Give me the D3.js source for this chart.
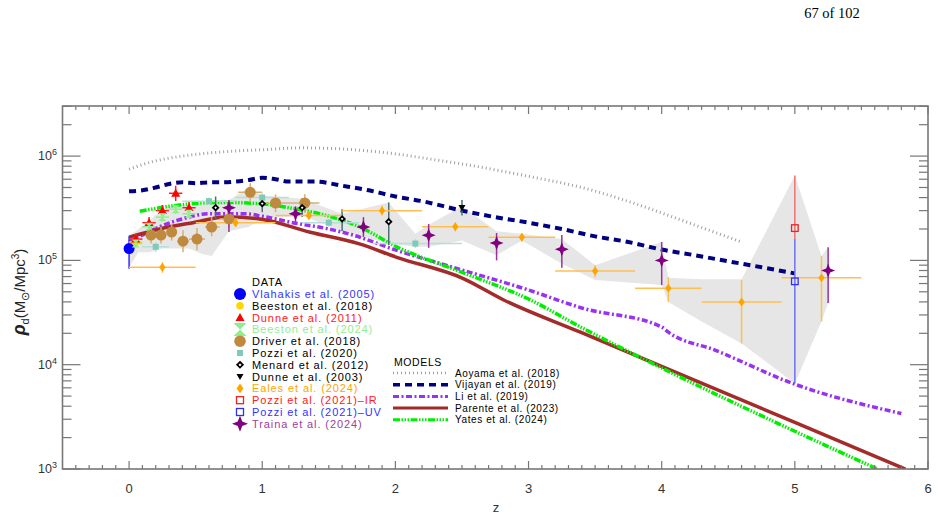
<!DOCTYPE html>
<meta charset="utf-8">
<style>
    body { margin: 0; background: #fff; }
    text { font-family: "Liberation Sans", Arial, sans-serif; }
</style>
<svg width="938" height="519"></svg>

<script src="https://d3js.org/d3.v7.min.js"></script>
<script>
    // model curves
    var aoyamaZ = [0, 0.2, 0.4, 0.6, 0.8, 1.0, 1.3, 1.6, 2.0, 2.3, 2.6, 3.0, 3.4, 3.8, 4.2, 4.6];
    var aoyamaV = [7.5e5, 9.0e5, 1.0e6, 1.07e6, 1.12e6, 1.15e6, 1.2e6, 1.17e6, 1.05e6, 9.2e5, 8.0e5, 6.4e5, 5.0e5, 3.5e5, 2.3e5, 1.5e5];
    var vijayanZ = [0, 0.1, 0.2, 0.3, 0.4, 0.5, 0.6, 0.7, 0.8, 0.9, 1.0, 1.1, 1.2, 1.4, 1.6, 1.8, 2.0, 2.2, 2.5, 2.75, 3.0, 3.25, 3.5, 3.75, 4.0, 4.25, 4.5, 4.75, 5.0];
    var vijayanV = [4.6e5, 4.7e5, 5.0e5, 5.4e5, 5.6e5, 5.5e5, 5.6e5, 5.6e5, 5.7e5, 5.9e5, 6.2e5, 6.0e5, 5.7e5, 5.7e5, 5.2e5, 4.7e5, 4.1e5, 3.7e5, 3.0e5, 2.6e5, 2.3e5, 2.0e5, 1.7e5, 1.5e5, 1.27e5, 1.12e5, 9.8e4, 8.6e4, 7.5e4];
    var liZ = [0, 0.1, 0.23, 0.4, 0.6, 0.88, 1.0, 1.23, 1.5, 1.68, 2.0, 2.5, 3.0, 3.4, 4.0, 4.05, 4.4, 5.0, 5.8];
    var liV = [1.5e5, 1.75e5, 2.1e5, 2.5e5, 2.8e5, 2.8e5, 2.65e5, 2.3e5, 2.0e5, 1.75e5, 1.26e5, 8.1e4, 5.2e4, 3.5e4, 2.3e4, 2.05e4, 1.38e4, 6.5e3, 3.4e3];
    var parenteZ = [0, 0.23, 0.48, 0.73, 0.98, 1.36, 1.73, 2.01, 2.51, 2.81, 3.39, 5.0, 5.83];
    var parenteV = [1.67e5, 2.0e5, 2.3e5, 2.6e5, 2.5e5, 1.86e5, 1.44e5, 1.07e5, 6.7e4, 4.2e4, 2.05e4, 2.8e3, 1.0e3];
    var yatesZ = [0.08, 0.3, 0.48, 0.7, 0.98, 1.2, 1.48, 1.73, 2.01, 2.51, 3.01, 3.39, 4.0, 5.0, 5.62];
    var yatesV = [2.96e5, 3.3e5, 3.5e5, 3.6e5, 3.5e5, 3.2e5, 2.7e5, 2.1e5, 1.35e5, 7.6e4, 4.2e4, 2.3e4, 9.3e3, 2.3e3, 1.0e3];

    // observations: [z, rho, zlo, zhi, rholo, rhohi]
    var vlahakis = [[0.0, 1.3e5, 0, 0, 8.3e4, 1.7e5]];
    var beeston18 = [[0.05, 1.5e5, 0.0, 0.1, 1.38e5, 1.62e5]];
    var dunne11 = [[0.05, 1.6e5, 0, 0.1, 1.42e5, 1.8e5], [0.15, 2.3e5, 0.1, 0.2, 2.0e5, 2.6e5], [0.25, 3.0e5, 0.2, 0.3, 2.65e5, 3.4e5],
                   [0.35, 4.4e5, 0.3, 0.4, 3.7e5, 5.2e5], [0.45, 3.2e5, 0.4, 0.5, 2.8e5, 3.65e5]];
    var beeston24 = [[0.05, 1.45e5, 0, 0.1, 1.32e5, 1.6e5], [0.15, 2.1e5, 0.1, 0.2, 1.9e5, 2.3e5], [0.25, 2.6e5, 0.2, 0.3, 2.35e5, 2.85e5],
                     [0.35, 3.1e5, 0.3, 0.4, 2.8e5, 3.4e5], [0.45, 2.8e5, 0.4, 0.5, 2.55e5, 3.1e5]];
    var driver = [[0.165, 1.75e5, 0.13, 0.2, 1.45e5, 2.1e5], [0.24, 1.75e5, 0.2, 0.28, 1.45e5, 2.1e5], [0.32, 1.87e5, 0.28, 0.36, 1.55e5, 2.25e5],
                  [0.405, 1.53e5, 0.36, 0.45, 1.2e5, 1.95e5], [0.51, 1.6e5, 0.45, 0.57, 1.25e5, 2.05e5], [0.62, 2.09e5, 0.57, 0.68, 1.7e5, 2.6e5],
                  [0.75, 2.5e5, 0.68, 0.82, 2.05e5, 3.05e5], [0.91, 4.5e5, 0.82, 1.0, 3.7e5, 5.5e5], [1.1, 3.55e5, 0.99, 1.21, 2.9e5, 4.3e5],
                  [1.32, 3.55e5, 1.21, 1.43, 2.9e5, 4.3e5]];
    var pozzi20 = [[0.2, 1.35e5, 0.1, 0.3, 1.2e5, 1.5e5], [0.6, 3.7e5, 0.4, 0.8, 3.4e5, 4.0e5], [1.0, 4.0e5, 0.8, 1.2, 3.6e5, 4.4e5],
                   [1.5, 2.3e5, 1.3, 1.73, 2.1e5, 2.5e5], [2.15, 1.45e5, 1.83, 2.5, 1.32e5, 1.6e5]];
    var menard = [[0.65, 3.2e5, 0.65, 0.65, 2.45e5, 4.1e5], [1.0, 3.5e5, 1.0, 1.0, 2.9e5, 4.05e5], [1.3, 3.2e5, 1.3, 1.3, 2.6e5, 3.95e5],
                  [1.6, 2.5e5, 1.6, 1.6, 1.9e5, 3.1e5], [1.95, 2.35e5, 1.95, 1.95, 1.4e5, 3.6e5]];
    var dunne03 = [[2.5, 3.2e5, 2.5, 2.5, 2.7e5, 3.8e5]];
    var eales = [[0.25, 8.6e4, 0.0, 0.5, 7.6e4, 9.6e4], [0.8, 2.3e5, 0.5, 1.1, 2.1e5, 2.5e5], [1.35, 2.7e5, 1.1, 1.6, 2.45e5, 2.95e5],
                 [1.9, 3.0e5, 1.6, 2.2, 2.7e5, 3.35e5], [2.45, 2.1e5, 2.2, 2.7, 1.9e5, 2.3e5], [2.95, 1.67e5, 2.7, 3.2, 1.52e5, 1.82e5],
                 [3.5, 7.9e4, 3.2, 3.8, 6.9e4, 9.0e4], [4.05, 5.4e4, 3.8, 4.3, 4.0e4, 6.9e4], [4.6, 4.0e4, 4.3, 4.9, 1.6e4, 6.5e4],
                 [5.2, 6.8e4, 4.9, 5.5, 2.6e4, 1.1e5]];
    var pozziIR = [[5.0, 2.04e5, 5.0, 5.0, 1.6e5, 6.5e5]];
    var pozziUV = [[5.0, 6.3e4, 5.0, 5.0, 6.6e3, 1.6e5]];
    var traina = [[0.75, 3.2e5, 0.75, 0.75, 1.87e5, 3.8e5], [1.25, 2.8e5, 1.25, 1.25, 2.33e5, 3.3e5], [1.76, 2.09e5, 1.76, 1.76, 1.68e5, 2.6e5],
                  [2.25, 1.74e5, 2.25, 2.25, 1.32e5, 2.23e5], [2.76, 1.47e5, 2.76, 2.76, 1.0e5, 1.83e5], [3.25, 1.28e5, 3.25, 3.25, 8.5e4, 1.75e5],
                  [4.0, 1.0e5, 4.0, 4.0, 5.8e4, 1.5e5], [5.25, 8.0e4, 5.25, 5.25, 3.9e4, 1.34e5]];

    // grey envelope of the observations
    var bandZ  = [0.0, 0.07, 0.15, 0.25, 0.35, 0.45, 0.55, 0.62, 0.75, 0.9, 1.0, 1.3, 1.6, 1.95, 2.15, 2.25, 2.5, 2.76, 2.95, 3.25, 3.5, 4.0, 4.05, 4.3, 4.6, 5.0, 5.2, 5.25];
    var bandLo = [8.5e4, 1.2e5, 1.2e5, 1.3e5, 1.3e5, 1.3e5, 1.15e5, 1.1e5, 1.9e5, 2.1e5, 2.5e5, 2.7e5, 1.9e5, 1.45e5, 1.35e5, 1.35e5, 1.55e5, 1.12e5, 1.55e5, 9.3e4, 6.5e4, 5.8e4, 4.0e4, 2.6e4, 1.6e4, 6.6e3, 2.6e4, 3.9e4];
    var bandHi = [1.7e5, 2.0e5, 2.4e5, 3.1e5, 3.5e5, 3.3e5, 3.4e5, 3.8e5, 3.8e5, 5.0e5, 4.2e5, 3.9e5, 2.8e5, 3.6e5, 1.8e5, 2.2e5, 3.3e5, 1.9e5, 1.8e5, 1.6e5, 9.0e4, 1.5e5, 6.8e4, 6.6e4, 6.6e4, 6.5e5, 1.1e5, 1.34e5];

    var xTicks = [0, 1, 2, 3, 4, 5, 6];
    var yTicks = [1e3, 1e4, 1e5, 1e6];

    var svg = d3.select("svg"),
        pL = 62.5, pR = 928, pT = 106, pB = 469;
    var x = d3.scaleLinear().domain([-0.5, 6]).range([pL, pR]);
    var y = d3.scaleLog().domain([1e3, Math.pow(10, 3 + 363 / 104.3)]).range([pB, pT]);

    svg.append("text").attr("x", 832).attr("y", 18).attr("text-anchor", "middle")
        .style("font-family", "'Liberation Serif', serif").style("font-size", "14.5px").text("67 of 102");

    svg.append("clipPath").attr("id", "clip").append("rect")
        .attr("x", pL).attr("y", pT).attr("width", pR - pL).attr("height", pB - pT);
    var plot = svg.append("g").attr("clip-path", "url(#clip)");

    // envelope
    var band = d3.area()
        .x(function(i) { return x(bandZ[i]); })
        .y0(function(i) { return y(bandLo[i]); })
        .y1(function(i) { return y(bandHi[i]); });
    plot.append("path").attr("d", band(d3.range(bandZ.length))).attr("fill", "#e6e6e6");

    // models
    var models = [
        {name: "Aoyama et al. (2018)", z: aoyamaZ, v: aoyamaV, color: "#a0a0a0", w: 3, dash: "1 3"},
        {name: "Vijayan et al. (2019)", z: vijayanZ, v: vijayanV, color: "#000080", w: 4, dash: "7 5"},
        {name: "Li et al. (2019)", z: liZ, v: liV, color: "#9932f0", w: 3.5, dash: "6 2.5 2 2.5"},
        {name: "Parente et al. (2023)", z: parenteZ, v: parenteV, color: "#a52a2a", w: 3.5, dash: null},
        {name: "Yates et al. (2024)", z: yatesZ, v: yatesV, color: "#00ee00", w: 3.5, dash: "7 1.5 1.5 1.5 1.5 1.5 1.5 1.5"}
    ];
    models.forEach(function(m) {
        var line = d3.line()
            .x(function(i) { return x(m.z[i]); })
            .y(function(i) { return y(m.v[i]); })
            .curve(d3.curveMonotoneX);
        plot.append("path").attr("d", line(d3.range(m.z.length)))
            .attr("fill", "none").attr("stroke", m.color).attr("stroke-width", m.w)
            .attr("stroke-dasharray", m.dash);
    });

    // symbols
    function sym(g, type, cx, cy, color, s) {
        var p;
        if (type == "circle") {
            g.append("circle").attr("cx", cx).attr("cy", cy).attr("r", s).attr("fill", color);
        } else if (type == "tri") {
            p = [[cx, cy - s], [cx + s, cy + s * 0.75], [cx - s, cy + s * 0.75]];
            g.append("path").attr("d", "M" + p.join("L") + "Z").attr("fill", color);
        } else if (type == "tridown") {
            p = [[cx - s, cy - s * 0.75], [cx + s, cy - s * 0.75], [cx, cy + s]];
            g.append("path").attr("d", "M" + p.join("L") + "Z").attr("fill", color);
        } else if (type == "hour") {
            p = [[cx - s, cy - s], [cx + s, cy - s], [cx, cy], [cx + s, cy + s], [cx - s, cy + s], [cx, cy]];
            g.append("path").attr("d", "M" + p.join("L") + "Z").attr("fill", color);
        } else if (type == "square") {
            g.append("rect").attr("x", cx - s).attr("y", cy - s).attr("width", 2 * s).attr("height", 2 * s).attr("fill", color);
        } else if (type == "osquare") {
            g.append("rect").attr("x", cx - s).attr("y", cy - s).attr("width", 2 * s).attr("height", 2 * s)
                .attr("fill", "none").attr("stroke", color).attr("stroke-width", 1.3);
        } else if (type == "diamond") {
            p = [[cx, cy - s * 1.4], [cx + s, cy], [cx, cy + s * 1.4], [cx - s, cy]];
            g.append("path").attr("d", "M" + p.join("L") + "Z").attr("fill", color);
        } else if (type == "odiamond") {
            p = [[cx, cy - s], [cx + s, cy], [cx, cy + s], [cx - s, cy]];
            g.append("path").attr("d", "M" + p.join("L") + "Z").attr("fill", "#fff").attr("stroke", color).attr("stroke-width", 1.8);
        } else if (type == "star") {
            var k = s * 0.28;
            p = [[cx, cy - s], [cx + k, cy - k], [cx + s, cy], [cx + k, cy + k], [cx, cy + s], [cx - k, cy + k], [cx - s, cy], [cx - k, cy - k]];
            g.append("path").attr("d", "M" + p.join("L") + "Z").attr("fill", color);
        }
    }

    var sets = [
        {name: "Vlahakis et al. (2005)", d: vlahakis, type: "circle", s: 5.5, color: "#0000ff", err: "#3030ff", text: "#3333ff", ls: 6},
        {name: "Beeston et al. (2018)", d: beeston18, type: "circle", s: 3.5, color: "#ffd700", err: "#ffd700", text: "#000", ls: 3.8},
        {name: "Dunne et al. (2011)", d: dunne11, type: "tri", s: 4.5, color: "#ff0000", err: "#ff2020", text: "#ff2020", ls: 4.5},
        {name: "Beeston et al. (2024)", d: beeston24, type: "hour", s: 4, color: "#90ee90", err: "#90ee90", text: "#90ee90", ls: 6.5},
        {name: "Driver et al. (2018)", d: driver, type: "circle", s: 5.5, color: "#c08a3e", err: "#d6ae78", text: "#000", ls: 5.8},
        {name: "Pozzi et al. (2020)", d: pozzi20, type: "square", s: 3, color: "#7fcab8", err: "#b5e0d8", text: "#000", ls: 3},
        {name: "Menard et al. (2012)", d: menard, type: "odiamond", s: 2.6, color: "#000", err: "#4a7070", text: "#000", ls: 2.8},
        {name: "Dunne et al. (2003)", d: dunne03, type: "tridown", s: 3.5, color: "#000", err: "#3a7a60", text: "#000", ls: 3.5},
        {name: "Eales et al. (2024)", d: eales, type: "diamond", s: 3.2, color: "#ffa500", err: "#ffbf50", text: "#ffa500", ls: 3.5},
        {name: "Pozzi et al. (2021)\u2013IR", d: pozziIR, type: "osquare", s: 3.3, color: "#ee2020", err: "#f07070", text: "#ff2020", ls: 3.5},
        {name: "Pozzi et al. (2021)\u2013UV", d: pozziUV, type: "osquare", s: 3.3, color: "#3030ee", err: "#7070f0", text: "#3333ff", ls: 3.5},
        {name: "Traina et al. (2024)", d: traina, type: "star", s: 7, color: "#800080", err: "#993399", text: "#a040a0", ls: 8}
    ];

    var pts = svg.append("g");
    sets.forEach(function(ds) {
        ds.d.forEach(function(r) {
            if (r[2] != r[3]) pts.append("line").attr("x1", x(r[2])).attr("x2", x(r[3])).attr("y1", y(r[1])).attr("y2", y(r[1]))
                .attr("stroke", ds.err).attr("stroke-width", 1.5);
            pts.append("line").attr("x1", x(r[0])).attr("x2", x(r[0])).attr("y1", y(r[4])).attr("y2", y(r[5]))
                .attr("stroke", ds.err).attr("stroke-width", 1.5);
        });
    });
    sets.forEach(function(ds) {
        ds.d.forEach(function(r) { sym(pts, ds.type, x(r[0]), y(r[1]), ds.color, ds.s); });
    });

    // axes
    var ax = svg.append("g").attr("stroke", "#777").attr("stroke-width", 1.2);
    var minorX = d3.range(-4, 60).map(function(i) { return i / 10; }).filter(function(v) { return xTicks.indexOf(v) < 0; });
    var minorY = [];
    [1e3, 1e4, 1e5, 1e6].forEach(function(b) { for (var k = 2; k <= 9; k++) if (b * k < y.domain()[1]) minorY.push(b * k); });

    minorX.forEach(function(v) {
        ax.append("line").attr("x1", x(v)).attr("x2", x(v)).attr("y1", pB).attr("y2", pB - 4);
        ax.append("line").attr("x1", x(v)).attr("x2", x(v)).attr("y1", pT).attr("y2", pT + 4);
    });
    xTicks.forEach(function(v) {
        ax.append("line").attr("x1", x(v)).attr("x2", x(v)).attr("y1", pB).attr("y2", pB - 8);
        ax.append("line").attr("x1", x(v)).attr("x2", x(v)).attr("y1", pT).attr("y2", pT + 8);
    });
    minorY.forEach(function(v) {
        ax.append("line").attr("x1", pL).attr("x2", pL + 9).attr("y1", y(v)).attr("y2", y(v));
        ax.append("line").attr("x1", pR).attr("x2", pR - 9).attr("y1", y(v)).attr("y2", y(v));
    });
    yTicks.forEach(function(v) {
        ax.append("line").attr("x1", pL).attr("x2", pL + 18).attr("y1", y(v)).attr("y2", y(v));
        ax.append("line").attr("x1", pR).attr("x2", pR - 18).attr("y1", y(v)).attr("y2", y(v));
    });
    ax.append("rect").attr("x", pL).attr("y", pT).attr("width", pR - pL).attr("height", pB - pT)
        .attr("fill", "none").attr("stroke-width", 1.6);

    svg.selectAll(".xl").data(xTicks).enter().append("text")
        .attr("x", function(d) { return x(d); }).attr("y", 493)
        .attr("text-anchor", "middle").attr("fill", "#333").style("font-size", "13px")
        .text(function(d) { return d; });
    var yl = svg.selectAll(".yl").data(yTicks).enter().append("text")
        .attr("x", 57).attr("y", function(d) { return y(d) + 4; })
        .attr("text-anchor", "end").attr("fill", "#333").style("font-size", "12.5px");
    yl.append("tspan").text("10");
    yl.append("tspan").attr("dy", -5).style("font-size", "9px").text(function(d) { return Math.round(Math.log10(d)); });

    svg.append("text").attr("x", 496).attr("y", 512).attr("text-anchor", "middle").attr("fill", "#333")
        .style("font-size", "13px").text("z");

    var yt = svg.append("text").attr("transform", "translate(25,292) rotate(-90)").attr("text-anchor", "middle")
        .attr("fill", "#222").style("font-size", "15px");
    yt.append("tspan").style("font-size", "18px").style("font-style", "italic").style("font-weight", "bold").text("\u03c1");
    yt.append("tspan").attr("dy", 4).style("font-size", "11px").text("d");
    yt.append("tspan").attr("dy", -4).text("(M");
    yt.append("tspan").attr("dy", 4).style("font-size", "11px").text("\u2299");
    yt.append("tspan").attr("dy", -4).text("/Mpc");
    yt.append("tspan").attr("dy", -6).style("font-size", "10px").text("3");
    yt.append("tspan").attr("dy", 6).text(")");

    // data legend
    var lg = svg.append("g");
    lg.append("text").attr("x", 252).attr("y", 286).style("font-size", "11px").style("letter-spacing", "0.8px").text("DATA");
    sets.forEach(function(ds, i) {
        var cy = 294 + i * 11.8;
        sym(lg, ds.type, 240, cy, ds.color, ds.ls);
        lg.append("text").attr("x", 252).attr("y", cy + 4).attr("fill", ds.text)
            .style("font-size", "11px").style("letter-spacing", "0.9px").text(ds.name);
    });

    // model legend
    lg.append("text").attr("x", 394).attr("y", 366).style("font-size", "10.5px").style("letter-spacing", "0.6px").text("MODELS");
    models.forEach(function(m, i) {
        var cy = 373 + i * 11.7;
        lg.append("line").attr("x1", 393).attr("x2", 448).attr("y1", cy).attr("y2", cy)
            .attr("stroke", m.color).attr("stroke-width", m.w - 0.5).attr("stroke-dasharray", m.dash);
        lg.append("text").attr("x", 455).attr("y", cy + 3.5)
            .style("font-size", "10px").style("letter-spacing", "0.6px").text(m.name);
    });
</script>
